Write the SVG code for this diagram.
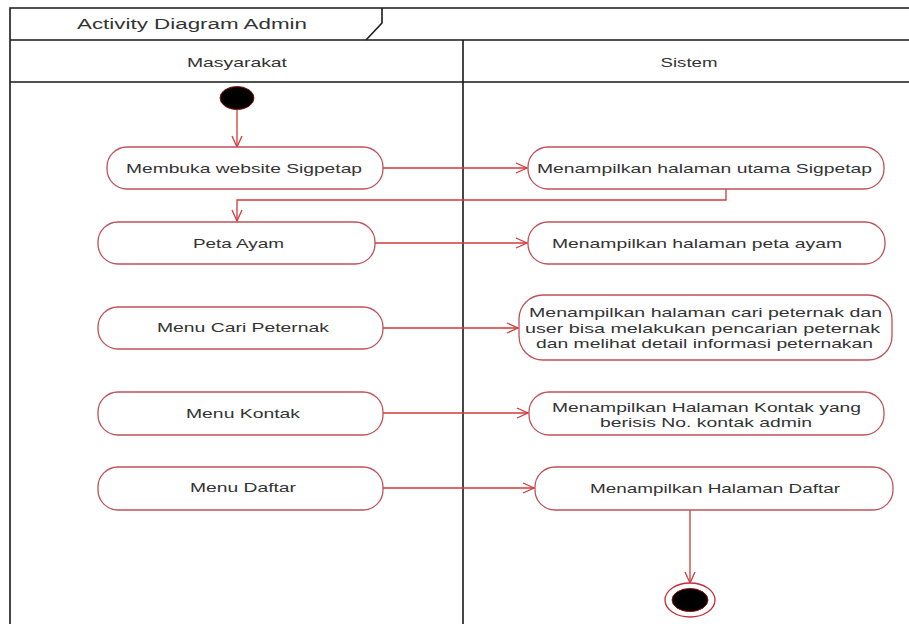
<svg xmlns="http://www.w3.org/2000/svg" width="909" height="624" viewBox="0 0 909 624">
<style>
.frame{fill:none;stroke:#1a1a1a;stroke-width:1.6}
.node{fill:#ffffff;stroke:#c0505a;stroke-width:1.3}
.t{font-family:"Liberation Sans",Arial,sans-serif;font-size:13.5px;fill:#333333;text-anchor:middle;dominant-baseline:central}
.h{font-family:"Liberation Sans",Arial,sans-serif;font-size:14px;fill:#333333;text-anchor:middle;dominant-baseline:central}
.c{fill:none;stroke:#d03a3a;stroke-width:1.3}
</style>
<defs>
<marker id="arr" markerUnits="userSpaceOnUse" markerWidth="14" markerHeight="12" refX="12" refY="6" orient="auto" viewBox="0 0 14 12">
<path d="M1,1 L12,6 L1,11" fill="none" stroke="#d03a3a" stroke-width="1.3"/>
</marker>
</defs>
<rect width="909" height="624" fill="#ffffff"/>
<g id="frame">
<path class="frame" d="M10,624 L10,8 L909,8 M10,40 L909,40 M10,82 L909,82 M463,40 L463,624"/>
<path class="frame" d="M382,8 L382,23 L366,40" stroke-width="1.2"/>
<text class="h" x="192" y="24" textLength="230" lengthAdjust="spacingAndGlyphs">Activity Diagram Admin</text>
<text class="t" x="237" y="62" textLength="100" lengthAdjust="spacingAndGlyphs">Masyarakat</text>
<text class="t" x="689" y="62" textLength="57" lengthAdjust="spacingAndGlyphs">Sistem</text>
</g>
<g id="connectors">
<path class="c" d="M237,110 L237,147" marker-end="url(#arr)"/>
<path class="c" d="M383,168 L527,168" marker-end="url(#arr)"/>
<path class="c" d="M726,189 L726,200 L237,200 L237,221" marker-end="url(#arr)"/>
<path class="c" d="M375,243 L527,243" marker-end="url(#arr)"/>
<path class="c" d="M383,328 L518,328" marker-end="url(#arr)"/>
<path class="c" d="M383,413 L528,413" marker-end="url(#arr)"/>
<path class="c" d="M383,488 L534,488" marker-end="url(#arr)"/>
<path class="c" d="M690,510 L690,583" marker-end="url(#arr)"/>
</g>
<g id="start">
<ellipse cx="237" cy="98" rx="17" ry="11.5" fill="#000000" stroke="#8a1010" stroke-width="1"/>
</g>
<g id="n1">
<rect class="node" x="107" y="147" width="276" height="42" rx="20"/>
<text class="t" x="244" y="168" textLength="236" lengthAdjust="spacingAndGlyphs">Membuka website Sigpetap</text>
</g>
<g id="s1">
<rect class="node" x="528" y="147" width="356" height="42" rx="20"/>
<text class="t" x="704.5" y="168" textLength="335" lengthAdjust="spacingAndGlyphs">Menampilkan halaman utama Sigpetap</text>
</g>
<g id="n2">
<rect class="node" x="98" y="222" width="277" height="42" rx="20"/>
<text class="t" x="238.5" y="243" textLength="91" lengthAdjust="spacingAndGlyphs">Peta Ayam</text>
</g>
<g id="s2">
<rect class="node" x="528" y="222" width="357" height="42" rx="20"/>
<text class="t" x="697" y="243" textLength="290" lengthAdjust="spacingAndGlyphs">Menampilkan halaman peta ayam</text>
</g>
<g id="n3">
<rect class="node" x="98" y="307" width="285" height="42" rx="20"/>
<text class="t" x="243" y="327" textLength="172" lengthAdjust="spacingAndGlyphs">Menu Cari Peternak</text>
</g>
<g id="s3">
<rect class="node" x="519" y="295" width="373" height="65" rx="24"/>
<text class="t" x="705.5" y="312" textLength="353" lengthAdjust="spacingAndGlyphs">Menampilkan halaman cari peternak dan</text>
<text class="t" x="702.5" y="328" textLength="355" lengthAdjust="spacingAndGlyphs">user bisa melakukan pencarian peternak</text>
<text class="t" x="704.5" y="343" textLength="337" lengthAdjust="spacingAndGlyphs">dan melihat detail informasi peternakan</text>
</g>
<g id="n4">
<rect class="node" x="98" y="392" width="285" height="43" rx="20"/>
<text class="t" x="243" y="413" textLength="114" lengthAdjust="spacingAndGlyphs">Menu Kontak</text>
</g>
<g id="s4">
<rect class="node" x="529" y="392" width="355" height="43" rx="20"/>
<text class="t" x="706.5" y="407" textLength="309" lengthAdjust="spacingAndGlyphs">Menampilkan Halaman Kontak yang</text>
<text class="t" x="706" y="422" textLength="212" lengthAdjust="spacingAndGlyphs">berisis No. kontak admin</text>
</g>
<g id="n5">
<rect class="node" x="98" y="467" width="285" height="43" rx="20"/>
<text class="t" x="243" y="487" textLength="106" lengthAdjust="spacingAndGlyphs">Menu Daftar</text>
</g>
<g id="s5">
<rect class="node" x="535" y="467" width="358" height="43" rx="20"/>
<text class="t" x="715" y="488" textLength="250" lengthAdjust="spacingAndGlyphs">Menampilkan Halaman Daftar</text>
</g>
<g id="end">
<ellipse cx="690" cy="600" rx="25" ry="17" fill="#ffffff" stroke="#c0303a" stroke-width="1.3"/>
<ellipse cx="690" cy="600" rx="18" ry="11.5" fill="#000000" stroke="#8a1010" stroke-width="1"/>
</g>
</svg>
